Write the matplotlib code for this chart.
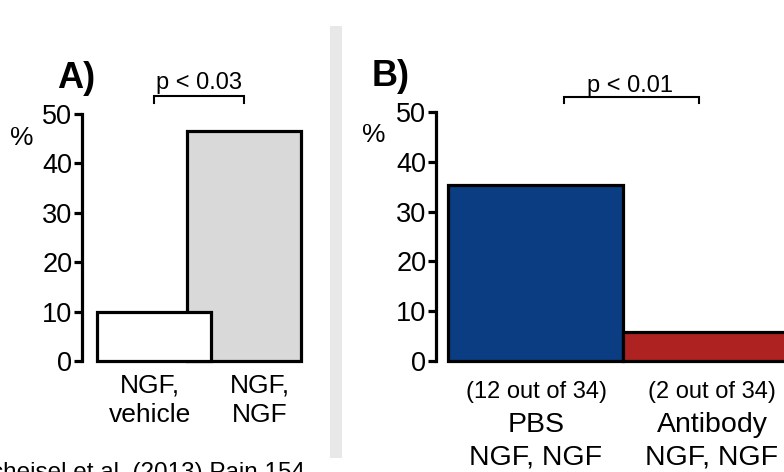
import matplotlib
matplotlib.use("Agg")
import matplotlib.pyplot as plt

plt.rcParams['font.family'] = ['Liberation Sans', 'DejaVu Sans']

W, H = 784, 472

# panel A data
groupsA = ["NGF,\nvehicle", "NGF,\nNGF"]
valuesA = [10.0, 46.5]
colorsA = ["white", "#d9d9d9"]
pA = "p < 0.03"

# panel B data
countsB = ["(12 out of 34)", "(2 out of 34)"]
groupsB = ["PBS", "Antibody"]
treatB = ["NGF, NGF", "NGF, NGF"]
valuesB = [35.3, 5.9]
colorsB = ["#0b3d82", "#ae2222"]
pB = "p < 0.01"

yticks = [0, 10, 20, 30, 40, 50]
citation = "cheisel et al. (2013) Pain 154"


def fx(x):
    return x / W


def fy(y):
    return 1 - y / H


def style_axis(ax):
    for s in ["top", "right", "bottom"]:
        ax.spines[s].set_visible(False)
    ax.spines["left"].set_linewidth(2.3)
    ax.set_ylim(0, 50)
    ax.set_yticks(yticks)
    ax.tick_params(axis="y", length=6, width=2.3, pad=1, labelsize=19.5)
    ax.set_xticks([])
    ax.patch.set_alpha(0)


def bracket(ax, x0, x1, y, drop, label, ytext, xtext):
    ax.plot([x0, x0, x1, x1], [y - drop, y, y, y - drop], color="black",
            lw=1.5, clip_on=False, solid_joinstyle="miter")
    ax.text(xtext, ytext, label, ha="center", va="baseline", fontsize=17)


fig = plt.figure(figsize=(W / 100, H / 100), dpi=100)

# gray separator strip
fig.add_artist(plt.Rectangle((fx(330), fy(458)), fx(12), (458 - 26) / H,
                             color="#e8e8e8", lw=0))

# ---- panel A ----
axA = fig.add_axes([fx(82), fy(361), fx(312 - 82), (361 - 114) / H])
style_axis(axA)
posA = [0, 0.79]
axA.bar(posA[1], valuesA[1], width=1, color=colorsA[1], edgecolor="black",
        lw=2.3, clip_on=False, zorder=2)
axA.bar(posA[0], valuesA[0], width=1, color=colorsA[0], edgecolor="black",
        lw=2.3, clip_on=False, zorder=3)
axA.set_xlim(-0.632, 1.386)
bracket(axA, posA[0], posA[1], 53.6, 1.4, pA, 55.1, (posA[0] + posA[1]) / 2)

fig.text(fx(150), fy(374), groupsA[0], ha="center", va="top", fontsize=19,
         linespacing=1.25)
fig.text(fx(260), fy(374), groupsA[1], ha="center", va="top", fontsize=19,
         linespacing=1.25)
fig.text(fx(76), fy(78), "A)", ha="center", va="center", fontsize=26,
         fontweight="bold")
fig.text(fx(22), fy(138), "%", ha="center", va="center", fontsize=19)

# ---- panel B ----
axB = fig.add_axes([fx(436), fy(361), fx(W - 436), (361 - 112) / H])
style_axis(axB)
posB = [0, 1]
axB.bar(posB, valuesB, width=1, color=colorsB, edgecolor="black",
        lw=2.3, clip_on=False, zorder=2)
axB.set_xlim(-0.569, 1.42)
bracket(axB, 0.163, 0.934, 53.0, 1.2, pB, 54.0, 0.54)

centersB = [536, 712]
for i in range(2):
    fig.text(fx(centersB[i]), fy(398), countsB[i], ha="center",
             va="baseline", fontsize=17)
    fig.text(fx(centersB[i]), fy(432), groupsB[i], ha="center",
             va="baseline", fontsize=20.5)
    fig.text(fx(centersB[i]), fy(465), treatB[i], ha="center",
             va="baseline", fontsize=20.5)
fig.text(fx(391), fy(76), "B)", ha="center", va="center", fontsize=26,
         fontweight="bold")
fig.text(fx(374), fy(135), "%", ha="center", va="center", fontsize=19)

fig.text(fx(305), fy(479), citation, ha="right", va="baseline", fontsize=17.5)

fig.savefig("out.png", dpi=100)
